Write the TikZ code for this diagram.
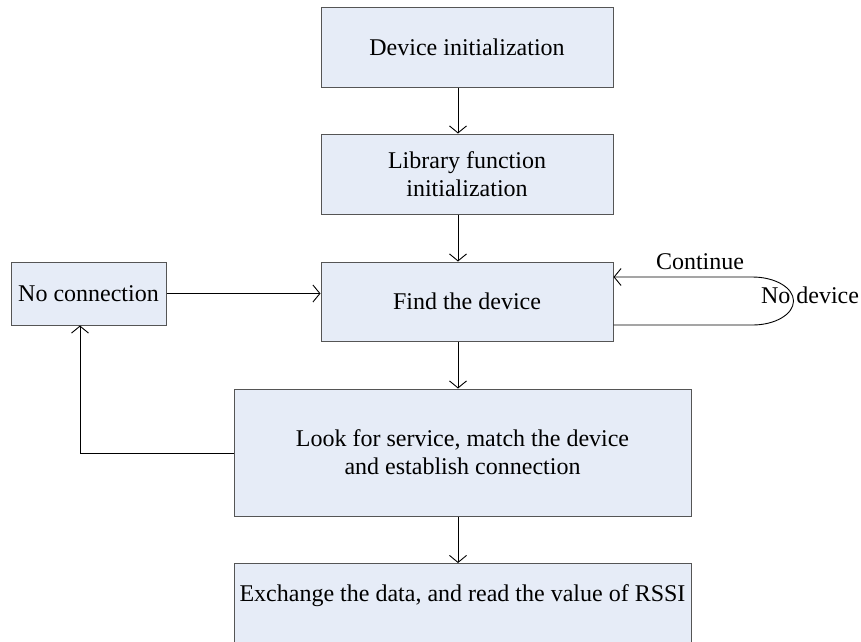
\documentclass[tikz,border=0pt]{standalone}
\usepackage{fontspec}
\setmainfont{Liberation Serif}
\usetikzlibrary{arrows.meta}
\definecolor{boxfill}{RGB}{230,236,247}
\definecolor{boxline}{RGB}{85,85,85}
\begin{document}
\begin{tikzpicture}[x=1pt,y=-1pt,
  box/.style={draw=boxline, fill=boxfill, line width=1pt, inner sep=0pt, align=center,
    font=\fontsize{24}{28}\selectfont},
  lbl/.style={inner sep=0pt, font=\fontsize{24}{28}\selectfont},
  arr/.style={draw=black, line width=0.9pt, -{Straight Barb[length=7pt,width=17pt,line width=0.9pt]}}]
\useasboundingbox (0,0) rectangle (861,641);
\clip (0,0) rectangle (861,641);
\node[box, minimum width=292pt, minimum height=80pt] (dev) at (467,47) {Device initialization};
\node[box, minimum width=292pt, minimum height=80pt] (lib) at (467,174) {Library function\\initialization};
\node[box, minimum width=292pt, minimum height=79pt] (find) at (467,301.5) {Find the device};
\node[box, minimum width=155pt, minimum height=63pt] (noconn) at (88.5,293.5) {No connection};
\node[box, minimum width=457pt, minimum height=127pt] (look) at (462.5,452.5) {Look for service, match the device\\and establish connection};
\node[box, minimum width=457pt, anchor=north, text height=38pt, text depth=70pt] (exch) at (462.5,563) {Exchange the data, and read the value of RSSI};
\coordinate (ax) at (458,0);
\coordinate (nx) at (80,0);
\draw[arr] (dev.south -| ax) -- (lib.north -| ax);
\draw[arr] (lib.south -| ax) -- (find.north -| ax);
\draw[arr] (find.south -| ax) -- (look.north -| ax);
\draw[arr] (look.south -| ax) -- (exch.north -| ax);
\draw[arr] (noconn.east) -- (noconn.east -| find.west);
\draw[arr] ([yshift=-1pt]look.west) -| (noconn.south -| nx);
\draw[arr] ([yshift=-23.5pt]find.east) -- ++(139,0)
  arc[start angle=-90, end angle=90, x radius=41pt, y radius=24pt]
  -- ([yshift=24.5pt]find.east);
\node[lbl] (cont) at (700,262) {Continue};
\node[lbl] (nodev) at (810,295) {No device};
\end{tikzpicture}
\end{document}
